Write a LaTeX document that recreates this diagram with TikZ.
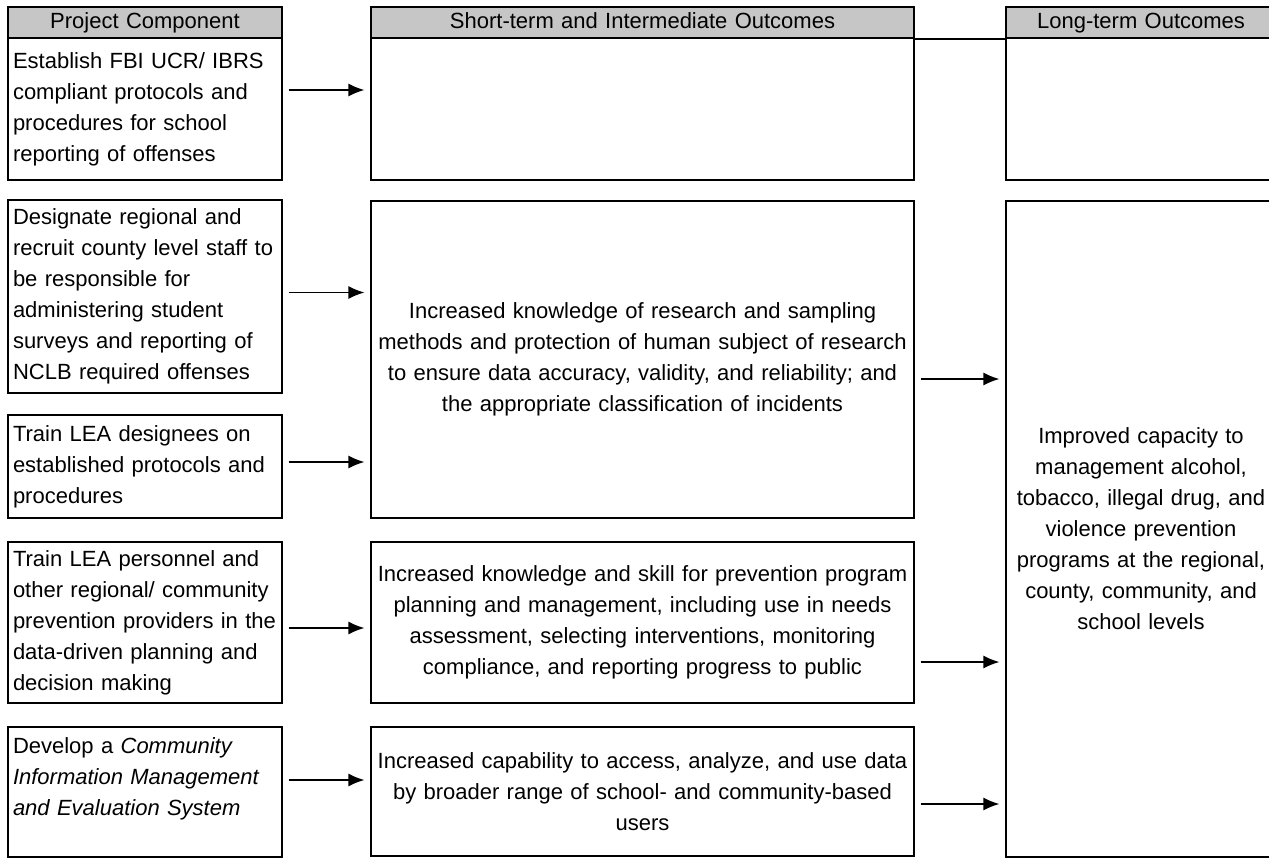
\documentclass[tikz,border=0pt]{standalone}
\usepackage{fontspec}
\setmainfont{Liberation Sans}
\usepackage{tikz}
\usetikzlibrary{arrows.meta}

\tikzset{
	box/.style={draw, line width=0.6pt, rectangle, inner xsep=2.5pt, inner ysep=0pt, font=\fontsize{11}{15.5}\selectfont},
	hdr/.style={box, fill=gray!45, line width=0.9pt, minimum height=15.5pt, text height=8pt, text depth=2.5pt, align=center},
	comp/.style={box, text width=132pt, align=left, minimum height=#1},
	outc/.style={box, text width=266.5pt, align=center, minimum height=#1},
	longt/.style={box, text width=130pt, align=center, minimum height=#1},
	flow/.style={-{Latex[length=8pt,width=6.5pt]}, line width=0.7pt, shorten <=3pt, shorten >=3pt}
}

\begin{document}
\begin{tikzpicture}[x=0.5pt, y=-0.5pt]
				\clip (0, 0) rectangle (1269, 858);
				
				\node[hdr, text width=132pt] (hc) at (145, 22.5) {Project Component};
				\node[hdr, text width=266.5pt] (ho) at (642.5, 22.5) {Short-term and Intermediate Outcomes};
				\node[hdr, text width=130pt] (hl) at (1141, 22.5) {Long-term Outcomes};
				\draw [line width=0.6pt] (ho.south east) -- (hl.south west);
				
				\node[comp=71pt] (c1) at (145, 109) {Establish FBI UCR/ IBRS\\compliant protocols and\\procedures for school\\reporting of offenses};
				\node[comp=96.5pt] (c2) at (145, 296.5) {Designate regional and\\recruit county level staff to\\be responsible for\\administering student\\surveys and reporting of\\NCLB required offenses};
				\node[comp=51.5pt] (c3) at (145, 466.5) {Train LEA designees on\\established protocols and\\procedures};
				\node[comp=80.5pt] (c4) at (145, 622.5) {Train LEA personnel and\\other regional/ community\\prevention providers in the\\data-driven planning and\\decision making};
				\node[comp=65pt] (c5) at (145, 792) {Develop a \textit{Community}\\\textit{Information Management}\\\textit{and Evaluation System}\\\mbox{}};
				
				\node[outc=71pt] (o1) at (642.5, 109) {};
				\node[outc=158.5pt] (o2) at (642.5, 359.5) {Increased knowledge of research and sampling\\methods and protection of human subject of research\\to ensure data accuracy, validity, and reliability; and\\the appropriate classification of incidents};
				\node[outc=80.5pt] (o3) at (642.5, 622.5) {Increased knowledge and skill for prevention program\\planning and management, including use in needs\\assessment, selecting interventions, monitoring\\compliance, and reporting progress to public};
				\node[outc=64.5pt] (o4) at (642.5, 791.5) {Increased capability to access, analyze, and use data\\by broader range of school- and community-based\\users};
				
				\node[longt=71pt] (l1) at (1141, 109) {};
				\node[longt=328pt] (l2) at (1141, 529) {Improved capacity to\\management alcohol,\\tobacco, illegal drug, and\\violence prevention\\programs at the regional,\\county, community, and\\school levels};
				
				%\draw [flow] (hc) -- (ho);
				\draw [flow] ([shift={(0, -19)}]c1.east) -- ([shift={(0, -19)}]c1.east -| o1.west);
				\draw [flow] ([shift={(0, -4)}]c2.east) -- ([shift={(0, -4)}]c2.east -| o2.west);
				\draw [flow] ([shift={(0, -4.5)}]c3.east) -- ([shift={(0, -4.5)}]c3.east -| o2.west);
				\draw [flow] ([shift={(0, 5.5)}]c4.east) -- ([shift={(0, 5.5)}]c4.east -| o3.west);
				\draw [flow] ([shift={(0, -12)}]c5.east) -- ([shift={(0, -12)}]c5.east -| o4.west);
				
				\draw [flow] ([shift={(0, 19.5)}]o2.east) -- ([shift={(0, 19.5)}]o2.east -| l2.west);
				\draw [flow] ([shift={(0, 39.5)}]o3.east) -- ([shift={(0, 39.5)}]o3.east -| l2.west);
				\draw [flow] ([shift={(0, 12.5)}]o4.east) -- ([shift={(0, 12.5)}]o4.east -| l2.west);
\end{tikzpicture}
\end{document}
